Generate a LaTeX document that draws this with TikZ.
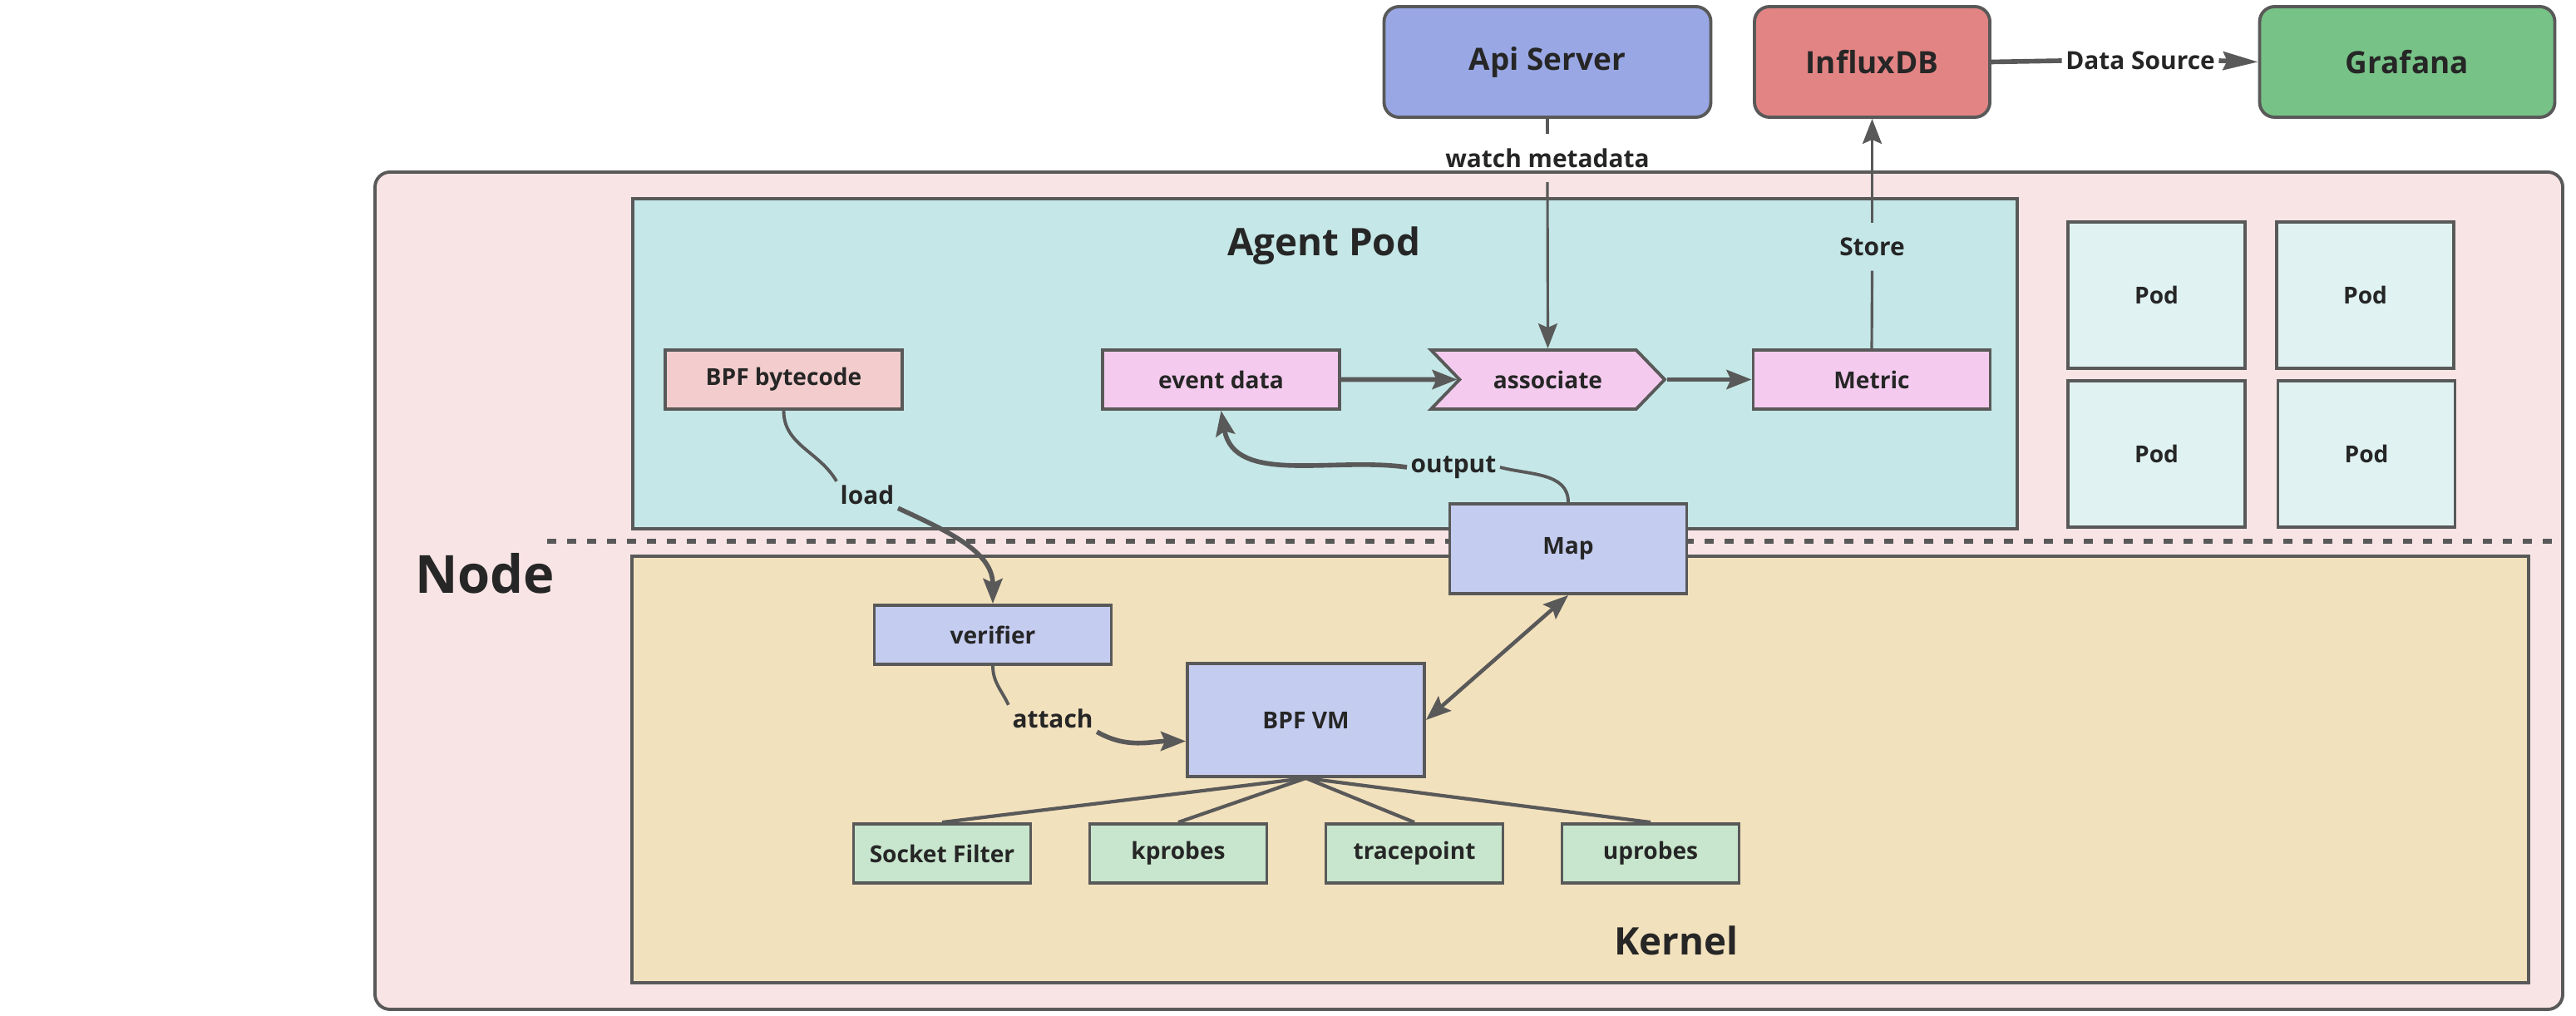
\documentclass[tikz,border=0pt]{standalone}
\usepackage{fontspec}
\setmainfont{Open Sans}
\usetikzlibrary{arrows.meta,shapes.symbols}

\definecolor{linegray}{HTML}{595959}
\definecolor{textdark}{HTML}{262626}
\definecolor{nodepink}{HTML}{F9E4E5}
\definecolor{agentcyan}{HTML}{C5E7E7}
\definecolor{kernelsand}{HTML}{F2E1BD}
\definecolor{podcyan}{HTML}{E0F2F2}
\definecolor{bytepink}{HTML}{F3CDCD}
\definecolor{datapink}{HTML}{F4CBEE}
\definecolor{vmblue}{HTML}{C4CCF0}
\definecolor{leafgreen}{HTML}{C8E6CD}
\definecolor{apiblue}{HTML}{99A8E5}
\definecolor{influxred}{HTML}{E38484}
\definecolor{grafgreen}{HTML}{77C387}

\begin{document}
\begin{tikzpicture}[
  text=textdark, font=\bfseries,
  >={Stealth[length=0.3cm, width=0.23cm, inset=0.05cm]},
  blockbox/.style={draw=linegray, line width=1.1pt, inner sep=0pt,
    minimum width=2.85cm, minimum height=0.71cm,
    font=\fontsize{8}{9}\selectfont\bfseries},
  topbox/.style={blockbox, rounded corners=0.18cm, minimum height=1.33cm,
    font=\fontsize{10.5}{12}\selectfont\bfseries},
  podbox/.style={blockbox, fill=podcyan, minimum width=2.13cm, minimum height=1.76cm},
  leafbox/.style={blockbox, fill=leafgreen, minimum width=2.13cm},
  title/.style={font=\fontsize{13}{15}\selectfont\bfseries},
  lbl/.style={font=\fontsize{8.5}{10}\selectfont\bfseries, inner sep=0.04cm},
  frame/.style={draw=linegray, line width=1.1pt},
  plainline/.style={draw=linegray, line width=0.9pt},
  flow/.style={draw=linegray, line width=1.6pt},
]

\useasboundingbox[fill=white] (0,0) rectangle (30.98,-12.22);

% Draw the node, agent pod and kernel areas
\draw[frame, fill=nodepink, rounded corners=0.18cm] (4.51,-2.07) rectangle (30.82,-12.14);
\draw[frame, fill=agentcyan] (7.61,-2.39) rectangle (24.26,-6.36);
\draw[frame, fill=kernelsand] (7.60,-6.69) rectangle (30.41,-11.82);
\draw[linegray, line width=1.8pt, dash pattern=on 0.11cm off 0.13cm] (6.58,-6.51) -- (30.82,-6.51);

% Titles
\node[font=\fontsize{18}{20}\selectfont\bfseries] (nodetitle) at (5.83,-6.90) {Node};
\node[title] (agenttitle) at (15.92,-2.96) {Agent Pod};
\node[title] (kerneltitle) at (20.16,-11.31) {Kernel};

% Outside services
\node[topbox, fill=apiblue, minimum width=3.93cm] (apisrv) at (18.61,-0.745) {Api Server};
\node[topbox, fill=influxred, minimum width=2.83cm] (influx) at (22.515,-0.745) {InfluxDB};
\node[topbox, fill=grafgreen, minimum width=3.55cm] (grafana) at (28.95,-0.745) {Grafana};

% Agent pod
\node[blockbox, fill=bytepink] (bytecode) at (9.425,-4.565) {BPF bytecode};
\node[blockbox, fill=datapink] (event) at (14.685,-4.565) {event data};
\node[blockbox, fill=datapink, shape=signal, signal from=west, signal to=east,
  signal pointer angle=92, minimum width=2.81cm] (assoc) at (18.615,-4.565) {associate};
\node[blockbox, fill=datapink] (metric) at (22.51,-4.565) {Metric};

% Other pods
\node[podbox] (pod1) at (25.935,-3.55) {Pod};
\node[podbox] (pod2) at (28.445,-3.55) {Pod};
\node[podbox] (pod3) at (25.935,-5.46) {Pod};
\node[podbox] (pod4) at (28.46,-5.46) {Pod};

% Kernel
\node[blockbox, fill=vmblue, minimum height=1.08cm] (map) at (18.86,-6.60) {Map};
\node[blockbox, fill=vmblue] (verifier) at (11.94,-7.635) {verifier};
\node[blockbox, fill=vmblue, minimum height=1.36cm] (bpfvm) at (15.705,-8.66) {BPF VM};
\node[leafbox] (socket) at (11.33,-10.265) {Socket Filter};
\node[leafbox] (kprobes) at (14.17,-10.265) {kprobes};
\node[leafbox] (tracepoint) at (17.01,-10.265) {tracepoint};
\node[leafbox] (uprobes) at (19.85,-10.265) {uprobes};

% Connector labels
\node[lbl, inner ysep=0.17cm] (watchlbl) at (18.61,-1.90) {watch metadata};
\node[lbl, inner ysep=0.17cm] (storelbl) at (22.515,-2.97) {Store};
\node[lbl] (dsrclbl) at (25.74,-0.73) {Data Source};
\node[lbl] (outlbl) at (17.48,-5.62) {output};
\node[lbl] (loadlbl) at (10.43,-5.95) {load};
\node[lbl] (attlbl) at (12.66,-8.64) {attach};

% Connectors
\draw[plainline] (apisrv.south) -- (watchlbl.north);
\draw[plainline, ->] (watchlbl.south) -- (assoc.north);
\draw[plainline] (metric.north) -- (storelbl.south);
\draw[plainline, ->] (storelbl.north) -- (influx.south);
\draw[flow] (influx.east) -- (dsrclbl.west);
\draw[flow, -{Stealth[length=0.42cm, width=0.22cm, inset=0.05cm]}] (dsrclbl.east) -- (grafana.west);
\draw[flow, ->] (event.east) -- (assoc);
\draw[flow, ->] (assoc.east) -- (metric.west);
\draw[plainline, line width=1.1pt] (map.north) to[out=90, in=-15] (outlbl.east);
\draw[flow, ->] (outlbl.west) to[out=172, in=-80] (event.south);
\draw[plainline, line width=1.1pt] (bytecode.south) to[out=-90, in=120] (loadlbl.north west);
\draw[flow, ->] (loadlbl.south east) to[out=-25, in=90] (verifier.north);
\draw[plainline, line width=1.1pt] (verifier.south) to[out=-90, in=115] (attlbl.north west);
\draw[flow, ->] (attlbl.south east) to[out=-30, in=180] (bpfvm.190);
\draw[plainline, line width=1.3pt, <->] (bpfvm.east) -- (map.south);
\foreach \leaf in {socket, kprobes, tracepoint, uprobes}
  \draw[plainline, line width=1.2pt] (bpfvm.south) -- (\leaf.north);

\end{tikzpicture}
\end{document}
